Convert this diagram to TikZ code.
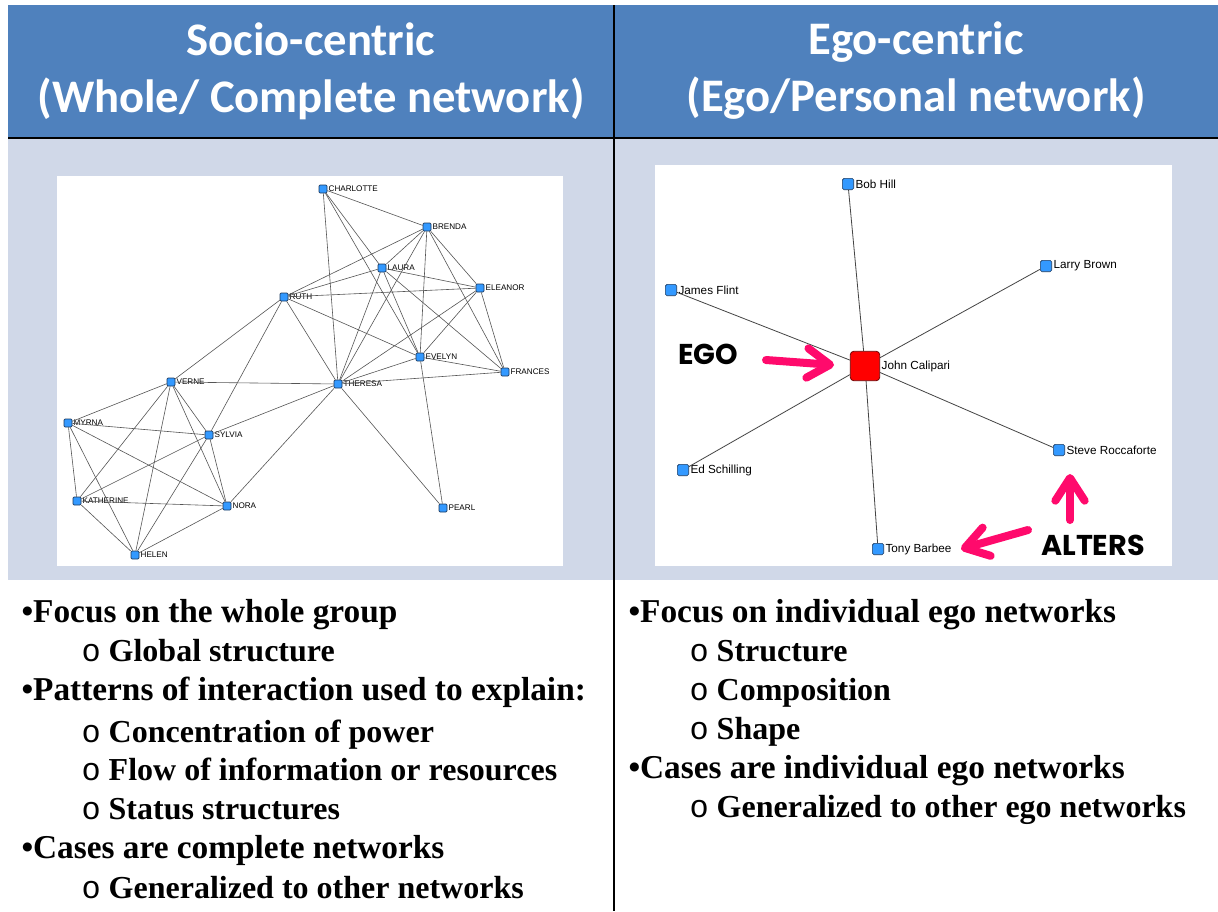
\documentclass[tikz,border=0pt]{standalone}
\usepackage{fontspec}
\setmainfont{Liberation Serif}
\newfontfamily\headfont{Carlito}
\newfontfamily\netfont{Liberation Sans}
\newfontfamily\markfont{Poppins}
\newfontfamily\subfont{Liberation Mono}
\usetikzlibrary{arrows.meta}

\definecolor{hdrblue}{RGB}{79,129,189}
\definecolor{panelgrey}{RGB}{208,216,232}
\definecolor{vtxblue}{RGB}{51,153,255}
\definecolor{vtxrim}{RGB}{28,58,96}
\definecolor{egored}{RGB}{255,0,0}
\definecolor{egorim}{RGB}{110,0,0}
\definecolor{alterpink}{RGB}{255,10,108}
\definecolor{tiegrey}{RGB}{85,85,85}

\tikzset{every picture/.style={line width=0.75pt}}
\tikzset{
  vtx/.style={rectangle, draw=vtxrim, fill=vtxblue, line width=0.5pt, rounded corners=0.8pt, minimum size=6pt, inner sep=0pt},
  vtxlbl/.style={font=\netfont\fontsize{6.1}{7}\selectfont, inner sep=0.6pt, label distance=0pt},
  alt/.style={vtx, minimum size=8.5pt, rounded corners=1.2pt},
  altlbl/.style={font=\netfont\fontsize{8.8}{10}\selectfont, inner sep=0.8pt, label distance=0pt},
  egovtx/.style={rectangle, draw=egorim, fill=egored, line width=0.6pt, rounded corners=2.5pt, minimum size=22pt, inner sep=0pt},
  tie/.style={draw=tiegrey, line width=0.45pt},
  egotie/.style={draw=tiegrey!80!black, line width=0.6pt},
  hdr/.style={font=\headfont\bfseries\fontsize{35}{42.75}\selectfont, text=white, align=center, inner sep=0.75pt},
  bul/.style={font=\bfseries\fontsize{25}{29}\selectfont, anchor=base west, inner sep=0.75pt},
  subbul/.style={font=\bfseries\fontsize{24}{29}\selectfont, anchor=base west, inner sep=0.75pt},
  tagtext/.style={font=\markfont\bfseries\fontsize{21.5}{24}\selectfont, inner sep=0.75pt},
  pinkarrow/.style={draw=alterpink, line width=6pt, line cap=round, -{Straight Barb[round, length=17pt, width=22pt]}}
}
\newcommand{\sub}{{\mdseries\subfont o}\ }

\begin{document}
\begin{tikzpicture}[x=0.75pt,y=0.75pt,yscale=-1,xscale=1]
\useasboundingbox (0,0) rectangle (1218,911);

%Shape: Rectangle
\fill [hdrblue] (8,5) rectangle (1218,138);
%Shape: Rectangle
\fill [panelgrey] (8,138) rectangle (1218,580);
%Shape: Rectangle
\fill [white] (57,176) rectangle (563,566);
%Shape: Rectangle
\fill [white] (655,165) rectangle (1172,566);
%Straight Lines
\draw [line width=1.5pt] (8,138) -- (1218,138);
%Straight Lines
\draw [line width=1.5pt] (614,5) -- (614,911);

% Text Node
\draw (311,71) node (sochead) [hdr] {Socio-centric\\(Whole/ Complete network)};
% Text Node
\draw (916,71) node (egohead) [hdr] {Ego-centric\\(Ego/Personal network)};

%Whole network vertices
\draw (323,189) node (charlotte) [vtx, label={[vtxlbl]right:CHARLOTTE}] {};
\draw (427,227) node (brenda) [vtx, label={[vtxlbl]right:BRENDA}] {};
\draw (382,268) node (laura) [vtx, label={[vtxlbl]right:LAURA}] {};
\draw (480,288) node (eleanor) [vtx, label={[vtxlbl]right:ELEANOR}] {};
\draw (284,297) node (ruth) [vtx, label={[vtxlbl]right:RUTH}] {};
\draw (420,357) node (evelyn) [vtx, label={[vtxlbl]right:EVELYN}] {};
\draw (505,372) node (frances) [vtx, label={[vtxlbl]right:FRANCES}] {};
\draw (171,382) node (verne) [vtx, label={[vtxlbl]right:VERNE}] {};
\draw (338,384) node (theresa) [vtx, label={[vtxlbl]right:THERESA}] {};
\draw (68,423) node (myrna) [vtx, label={[vtxlbl]right:MYRNA}] {};
\draw (209,435) node (sylvia) [vtx, label={[vtxlbl]right:SYLVIA}] {};
\draw (77,501) node (katherine) [vtx, label={[vtxlbl]right:KATHERINE}] {};
\draw (227,506) node (nora) [vtx, label={[vtxlbl]right:NORA}] {};
\draw (135,555) node (helen) [vtx, label={[vtxlbl]right:HELEN}] {};
\draw (443,508) node (pearl) [vtx, label={[vtxlbl]right:PEARL}] {};

%Straight Lines
\draw [tie] (evelyn) -- (laura);
\draw [tie] (evelyn) -- (theresa);
\draw [tie] (evelyn) -- (brenda);
\draw [tie] (evelyn) -- (charlotte);
\draw [tie] (evelyn) -- (frances);
\draw [tie] (evelyn) -- (eleanor);
\draw [tie] (evelyn) -- (pearl);
\draw [tie] (evelyn) -- (ruth);
\draw [tie] (laura) -- (theresa);
\draw [tie] (laura) -- (brenda);
\draw [tie] (laura) -- (charlotte);
\draw [tie] (laura) -- (frances);
\draw [tie] (laura) -- (eleanor);
\draw [tie] (laura) -- (ruth);
\draw [tie] (theresa) -- (brenda);
\draw [tie] (theresa) -- (charlotte);
\draw [tie] (theresa) -- (frances);
\draw [tie] (theresa) -- (eleanor);
\draw [tie] (theresa) -- (pearl);
\draw [tie] (theresa) -- (ruth);
\draw [tie] (theresa) -- (verne);
\draw [tie] (theresa) -- (sylvia);
\draw [tie] (theresa) -- (nora);
\draw [tie] (brenda) -- (charlotte);
\draw [tie] (brenda) -- (frances);
\draw [tie] (brenda) -- (eleanor);
\draw [tie] (brenda) -- (ruth);
\draw [tie] (frances) -- (eleanor);
\draw [tie] (eleanor) -- (ruth);
\draw [tie] (ruth) -- (verne);
\draw [tie] (ruth) -- (sylvia);
\draw [tie] (verne) -- (myrna);
\draw [tie] (verne) -- (katherine);
\draw [tie] (verne) -- (sylvia);
\draw [tie] (verne) -- (nora);
\draw [tie] (verne) -- (helen);
\draw [tie] (myrna) -- (katherine);
\draw [tie] (myrna) -- (sylvia);
\draw [tie] (myrna) -- (nora);
\draw [tie] (myrna) -- (helen);
\draw [tie] (katherine) -- (sylvia);
\draw [tie] (katherine) -- (nora);
\draw [tie] (katherine) -- (helen);
\draw [tie] (sylvia) -- (nora);
\draw [tie] (sylvia) -- (helen);
\draw [tie] (nora) -- (helen);

%Ego network vertices
\draw (865,366) node (calipari) [egovtx, label={[altlbl]right:John Calipari}] {};
\draw (848,184) node (hill) [alt, label={[altlbl]right:Bob Hill}] {};
\draw (1046,266) node (brown) [alt, label={[altlbl]right:Larry Brown}] {};
\draw (671,290) node (flint) [alt, label={[altlbl]right:James Flint}] {};
\draw (683,470) node (schilling) [alt, label={[altlbl]right:Ed Schilling}] {};
\draw (1059,450) node (roccaforte) [alt, label={[altlbl]right:Steve Roccaforte}] {};
\draw (878,549) node (barbee) [alt, label={[altlbl]right:Tony Barbee}] {};

%Straight Lines
\draw [egotie] (calipari) -- (hill);
\draw [egotie] (calipari) -- (brown);
\draw [egotie] (calipari) -- (flint);
\draw [egotie] (calipari) -- (schilling);
\draw [egotie] (calipari) -- (roccaforte);
\draw [egotie] (calipari) -- (barbee);

% Text Node
\draw (708,354) node (egotag) [tagtext] {EGO};
% Text Node
\draw (1093,545) node (altertag) [tagtext] {ALTERS};

%Arrows
\coordinate (egotail) at (766,360);
\coordinate (egotip) at (834,365);
\draw [pinkarrow] (egotail) -- (egotip);
\coordinate (uptail) at (1070,520);
\coordinate (uptip) at (1070,474);
\draw [pinkarrow] (uptail) -- (uptip);
\coordinate (lefttail) at (1028,530);
\coordinate (lefttip) at (961,549);
\draw [pinkarrow] (lefttail) -- (lefttip);

% Text Node
\draw (20,622) node (l1) [bul] {•Focus on the whole group};
% Text Node
\draw (80,661) node (l2) [subbul] {\sub Global structure};
% Text Node
\draw (20,700) node (l3) [bul] {•Patterns of interaction used to explain:};
% Text Node
\draw (80,742) node (l4) [subbul] {\sub Concentration of power};
% Text Node
\draw (80,780) node (l5) [subbul] {\sub Flow of information or resources};
% Text Node
\draw (80,819) node (l6) [subbul] {\sub Status structures};
% Text Node
\draw (20,858) node (l7) [bul] {•Cases are complete networks};
% Text Node
\draw (80,898) node (l8) [subbul] {\sub Generalized to other networks};

% Text Node
\draw (627,622) node (r1) [bul] {•Focus on individual ego networks};
% Text Node
\draw (688,661) node (r2) [subbul] {\sub Structure};
% Text Node
\draw (688,700) node (r3) [subbul] {\sub Composition};
% Text Node
\draw (688,739) node (r4) [subbul] {\sub Shape};
% Text Node
\draw (627,778) node (r5) [bul] {•Cases are individual ego networks};
% Text Node
\draw (688,817) node (r6) [subbul] {\sub Generalized to other ego networks};

\end{tikzpicture}
\end{document}
